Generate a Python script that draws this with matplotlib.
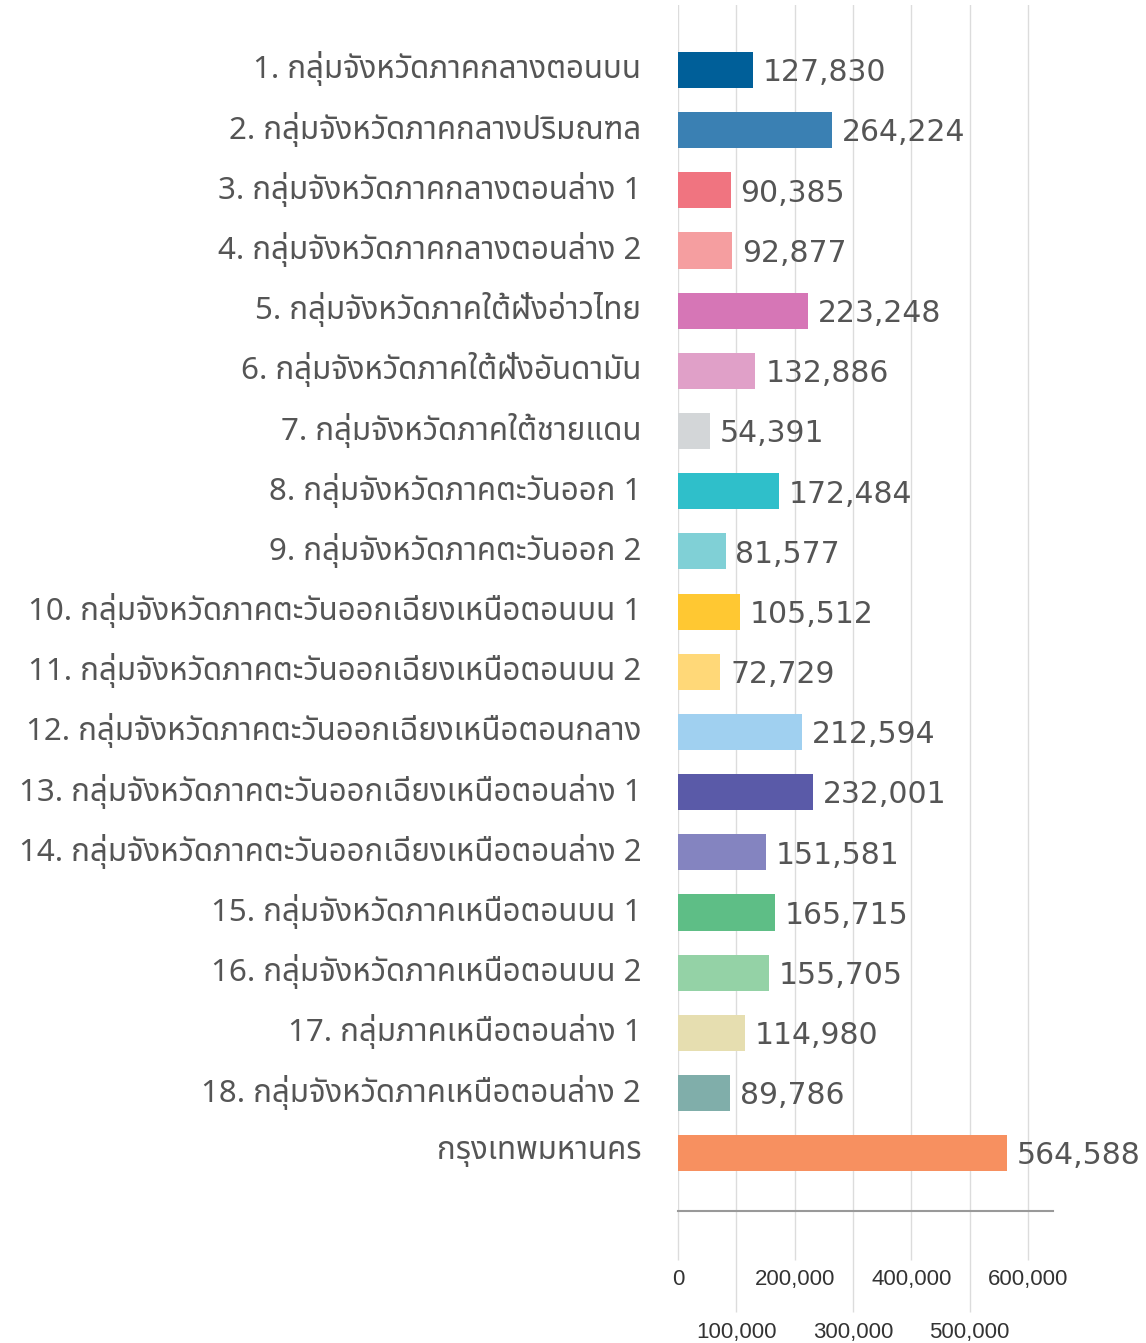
import matplotlib
matplotlib.use("Agg")
import matplotlib.pyplot as plt
from matplotlib import font_manager
from matplotlib.ticker import FixedLocator, FuncFormatter
from matplotlib.transforms import ScaledTranslation

# data
labels = [
    "1. กลุ่มจังหวัดภาคกลางตอนบน",
    "2. กลุ่มจังหวัดภาคกลางปริมณฑล",
    "3. กลุ่มจังหวัดภาคกลางตอนล่าง 1",
    "4. กลุ่มจังหวัดภาคกลางตอนล่าง 2",
    "5. กลุ่มจังหวัดภาคใต้ฝั่งอ่าวไทย",
    "6. กลุ่มจังหวัดภาคใต้ฝั่งอันดามัน",
    "7. กลุ่มจังหวัดภาคใต้ชายแดน",
    "8. กลุ่มจังหวัดภาคตะวันออก 1",
    "9. กลุ่มจังหวัดภาคตะวันออก 2",
    "10. กลุ่มจังหวัดภาคตะวันออกเฉียงเหนือตอนบน 1",
    "11. กลุ่มจังหวัดภาคตะวันออกเฉียงเหนือตอนบน 2",
    "12. กลุ่มจังหวัดภาคตะวันออกเฉียงเหนือตอนกลาง",
    "13. กลุ่มจังหวัดภาคตะวันออกเฉียงเหนือตอนล่าง 1",
    "14. กลุ่มจังหวัดภาคตะวันออกเฉียงเหนือตอนล่าง 2",
    "15. กลุ่มจังหวัดภาคเหนือตอนบน 1",
    "16. กลุ่มจังหวัดภาคเหนือตอนบน 2",
    "17. กลุ่มภาคเหนือตอนล่าง 1",
    "18. กลุ่มจังหวัดภาคเหนือตอนล่าง 2",
    "กรุงเทพมหานคร",
]
values = [127830, 264224, 90385, 92877, 223248, 132886, 54391, 172484, 81577,
          105512, 72729, 212594, 232001, 151581, 165715, 155705, 114980, 89786,
          564588]
colors = ["#005f99", "#3a80b3", "#f07480", "#f59ea0", "#d676b6", "#e0a0c8",
          "#d3d6d8", "#2fbfca", "#80d0d6", "#ffc832", "#ffd878", "#a0d0f0",
          "#5a5aa8", "#8484c0", "#5ebe86", "#94d2a6", "#e6deb0", "#80aeaa",
          "#f79060"]
xticks_upper = [0, 200000, 400000, 600000]
xticks_lower = [100000, 300000, 500000]


def find_thai_font():
    # look for any installed font that has Thai glyphs
    found = []
    for f in font_manager.fontManager.ttflist:
        try:
            cmap = font_manager.get_font(f.fname).get_charmap()
        except Exception:
            continue
        if 0x0E01 in cmap and 0x0E2B in cmap:
            found.append(f.name)
    for pref in ["Noto Sans Thai", "Sarabun", "Loma", "Garuda", "Tlwg Typist"]:
        if pref in found:
            return pref
    return found[0] if found else None


thai = find_thai_font()
plt.rcParams["font.family"] = ([thai] if thai else []) + ["DejaVu Sans"]

text_color = "#555555"
grid_color = "#dcdcdc"

fig = plt.figure(figsize=(11.46, 13.43), dpi=100)
ax = fig.add_axes([0.5916, 0.0983, 0.3272, 0.898])

y = list(range(len(values)))
ax.barh(y, values, height=0.6, color=colors, zorder=2)
ax.set_ylim(len(values) - 1 + 0.96, -1.08)
ax.set_xlim(0, 643000)

for yi, v in zip(y, values):
    ax.annotate(f"{v:,}", (v, yi), xytext=(7, -2), textcoords="offset points",
                va="center", ha="left", fontsize=21.5, color=text_color,
                family="DejaVu Sans", annotation_clip=False)

ax.set_yticks(y)
ax.set_yticklabels(labels, fontsize=22.5, color=text_color)
ax.tick_params(axis="y", length=0, pad=26.5)
# nudge the Thai labels up a little (font has tall ascent/descent)
shift = ScaledTranslation(0, 5 / 100, fig.dpi_scale_trans)
for t in ax.get_yticklabels():
    t.set_transform(t.get_transform() + shift)

# staggered x tick labels: even hundreds on top, odd hundreds below
fmt = FuncFormatter(lambda v, p: f"{int(v):,}")
ax.xaxis.set_major_locator(FixedLocator(xticks_upper))
ax.xaxis.set_minor_locator(FixedLocator(xticks_lower))
ax.xaxis.set_major_formatter(fmt)
ax.xaxis.set_minor_formatter(fmt)
ax.tick_params(axis="x", which="major", length=35.5, width=1.0,
               color=grid_color, pad=6, labelsize=16, labelcolor="#333333")
ax.tick_params(axis="x", which="minor", length=73, width=1.0,
               color=grid_color, pad=7, labelsize=16, labelcolor="#333333")
for t in ax.get_xticklabels(which="both"):
    t.set_family("Liberation Sans")

ax.grid(axis="x", which="both", color=grid_color, linewidth=1.0, zorder=0)
ax.set_axisbelow(True)
for s in ["top", "right", "left"]:
    ax.spines[s].set_visible(False)
ax.spines["bottom"].set_color("#999999")
ax.spines["bottom"].set_linewidth(1.5)
ax.spines["bottom"].set_zorder(3)

fig.savefig("out.png", dpi=100)
